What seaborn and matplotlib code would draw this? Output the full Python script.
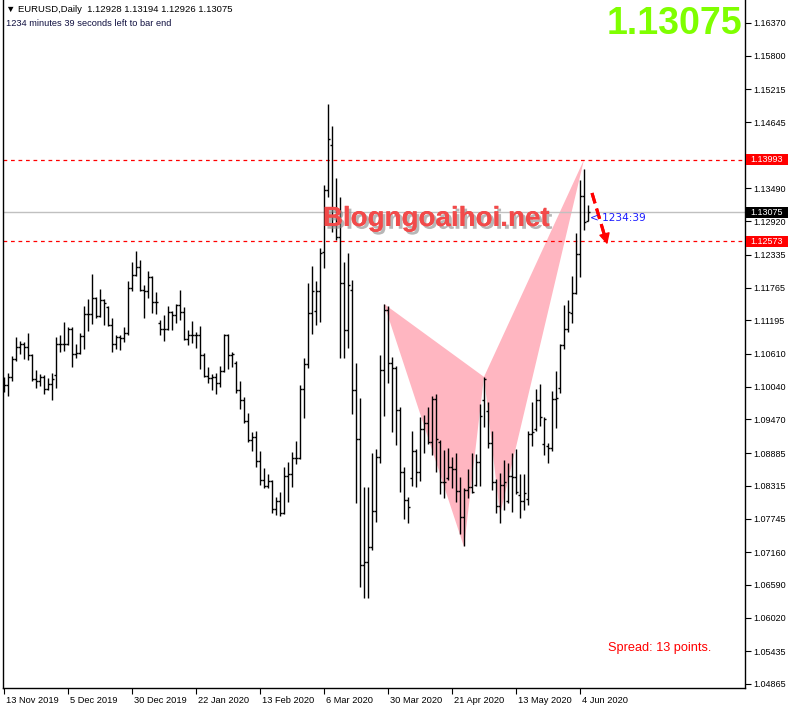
import matplotlib
matplotlib.use("Agg")
import matplotlib.pyplot as plt
import matplotlib.patheffects as pe
import matplotlib.transforms as mtrans
from matplotlib.patches import Rectangle
import numpy as np
import pandas as pd
import seaborn as sns

# daily OHLC bars, 13 Nov 2019 .. 8 Jun 2020
opens = [1.1003, 1.1007, 1.1021, 1.1052, 1.1073, 1.1079, 1.1073, 1.1059, 1.1018, 1.1014,
         1.1021, 1.1000, 1.1009, 1.1024, 1.1079, 1.1079, 1.1079, 1.1105, 1.1061, 1.1063,
         1.1092, 1.1131, 1.1131, 1.1158, 1.1127, 1.1155, 1.1143, 1.1112, 1.1079, 1.1091,
         1.1089, 1.1098, 1.1176, 1.1198, 1.1212, 1.1173, 1.1171, 1.1195, 1.1152, 1.1115,
         1.1105, 1.1105, 1.1134, 1.1129, 1.1146, 1.1134, 1.1087, 1.1094, 1.1094, 1.1094,
         1.1059, 1.1023, 1.1019, 1.1021, 1.1011, 1.1031, 1.1094, 1.1059, 1.1045, 1.0998,
         1.0981, 1.0944, 1.0911, 1.0917, 1.0875, 1.0842, 1.0831, 1.0840, 1.0791, 1.0805,
         1.0784, 1.0849, 1.0852, 1.0880, 1.0880, 1.1000, 1.1044, 1.1132, 1.1136, 1.1171,
         1.1239, 1.1346, 1.1425, 1.1286, 1.1265, 1.1185, 1.1103, 1.1172, 1.0998, 1.0913,
         1.0694, 1.0699, 1.0725, 1.0788, 1.0882, 1.1033, 1.1138, 1.1045, 1.1037, 1.0964,
         1.0856, 1.0806, 1.0845, 1.0892, 1.0856, 1.0931, 1.0941, 1.0908, 1.0983, 1.0908,
         1.0838, 1.0845, 1.0864, 1.0861, 1.0823, 1.0777, 1.0824, 1.0830, 1.0833, 1.0873,
         1.0981, 1.0962, 1.0906, 1.0838, 1.0797, 1.0833, 1.0805, 1.0849, 1.0847, 1.0816,
         1.0805, 1.0809, 1.0922, 1.0930, 1.0981, 1.0904, 1.0900, 1.0897, 1.0983, 1.1002,
         1.1077, 1.1105, 1.1132, 1.1167, 1.1235, 1.1336, 1.12928]
highs = [1.1021, 1.1028, 1.1058, 1.1091, 1.1084, 1.1082, 1.1098, 1.1061, 1.1033, 1.1026,
         1.1024, 1.1019, 1.1028, 1.1091, 1.1094, 1.1117, 1.1108, 1.1108, 1.1079, 1.1098,
         1.1145, 1.1157, 1.1200, 1.1160, 1.1174, 1.1157, 1.1145, 1.1124, 1.1094, 1.1094,
         1.1108, 1.1188, 1.1221, 1.1240, 1.1225, 1.1181, 1.1205, 1.1197, 1.1169, 1.1120,
         1.1129, 1.1145, 1.1136, 1.1148, 1.1172, 1.1143, 1.1103, 1.1119, 1.1100, 1.1110,
         1.1063, 1.1038, 1.1026, 1.1028, 1.1040, 1.1096, 1.1096, 1.1065, 1.1049, 1.1014,
         1.0986, 1.0958, 1.0925, 1.0927, 1.0892, 1.0863, 1.0852, 1.0842, 1.0812, 1.0821,
         1.0864, 1.0873, 1.0890, 1.0910, 1.1007, 1.1054, 1.1185, 1.1214, 1.1188, 1.1245,
         1.1355, 1.1496, 1.1458, 1.1367, 1.1334, 1.1221, 1.1237, 1.1190, 1.1045, 1.0984,
         1.0830, 1.0830, 1.0889, 1.0896, 1.1059, 1.1148, 1.1145, 1.1056, 1.1040, 1.0969,
         1.0864, 1.0812, 1.0927, 1.0895, 1.0951, 1.0955, 1.0969, 1.0988, 1.0991, 1.0911,
         1.0894, 1.0897, 1.0882, 1.0889, 1.0847, 1.0828, 1.0861, 1.0889, 1.0887, 1.0974,
         1.1021, 1.0978, 1.0927, 1.0844, 1.0854, 1.0877, 1.0871, 1.0889, 1.0896, 1.0852,
         1.0852, 1.0927, 1.0978, 1.1000, 1.1009, 1.0951, 1.0906, 1.0997, 1.1032, 1.1078,
         1.1146, 1.1155, 1.1197, 1.1272, 1.1364, 1.1383, 1.13194]
lows = [1.0995, 1.0988, 1.1014, 1.1049, 1.1061, 1.1052, 1.1051, 1.1014, 1.1002, 1.1005,
        1.0991, 1.0998, 1.0981, 1.1002, 1.1065, 1.1066, 1.1077, 1.1038, 1.1054, 1.1060,
        1.1070, 1.1101, 1.1113, 1.1124, 1.1125, 1.1112, 1.1110, 1.1065, 1.1070, 1.1068,
        1.1082, 1.1094, 1.1171, 1.1196, 1.1171, 1.1124, 1.1158, 1.1132, 1.1131, 1.1094,
        1.1084, 1.1103, 1.1103, 1.1115, 1.1120, 1.1085, 1.1077, 1.1080, 1.1072, 1.1035,
        1.1021, 1.1011, 1.0998, 1.0991, 1.1004, 1.1030, 1.1035, 1.1038, 1.0993, 1.0965,
        1.0941, 1.0908, 1.0892, 1.0864, 1.0833, 1.0828, 1.0828, 1.0784, 1.0781, 1.0779,
        1.0782, 1.0804, 1.0830, 1.0870, 1.0878, 1.0950, 1.1037, 1.1096, 1.1112, 1.1117,
        1.1211, 1.1334, 1.1273, 1.1259, 1.1054, 1.1054, 1.1072, 1.0957, 1.0802, 1.0656,
        1.0637, 1.0637, 1.0720, 1.0769, 1.0871, 1.0953, 1.1011, 1.0925, 1.0903, 1.0821,
        1.0774, 1.0767, 1.0831, 1.0830, 1.0840, 1.0889, 1.0904, 1.0885, 1.0856, 1.0817,
        1.0810, 1.0842, 1.0828, 1.0804, 1.0748, 1.0727, 1.0810, 1.0819, 1.0831, 1.0831,
        1.0934, 1.0898, 1.0824, 1.0784, 1.0767, 1.0790, 1.0802, 1.0786, 1.0817, 1.0776,
        1.0790, 1.0798, 1.0901, 1.0927, 1.0936, 1.0885, 1.0871, 1.0892, 1.0932, 1.0993,
        1.1070, 1.1099, 1.1115, 1.1165, 1.1195, 1.1277, 1.12926]
closes = [1.1007, 1.1021, 1.1052, 1.1073, 1.1079, 1.1073, 1.1059, 1.1018, 1.1014, 1.1021,
          1.1000, 1.1009, 1.1018, 1.1079, 1.1079, 1.1079, 1.1105, 1.1061, 1.1063, 1.1092,
          1.1131, 1.1131, 1.1158, 1.1127, 1.1155, 1.1150, 1.1112, 1.1079, 1.1091, 1.1089,
          1.1098, 1.1176, 1.1198, 1.1212, 1.1173, 1.1171, 1.1195, 1.1152, 1.1152, 1.1105,
          1.1105, 1.1134, 1.1129, 1.1146, 1.1134, 1.1087, 1.1094, 1.1094, 1.1094, 1.1059,
          1.1023, 1.1019, 1.1021, 1.1011, 1.1031, 1.1094, 1.1059, 1.1061, 1.0998, 1.0981,
          1.0944, 1.0911, 1.0917, 1.0875, 1.0842, 1.0831, 1.0840, 1.0791, 1.0805, 1.0784,
          1.0849, 1.0852, 1.0880, 1.0880, 1.1000, 1.1044, 1.1132, 1.1171, 1.1171, 1.1237,
          1.1346, 1.1435, 1.1286, 1.1265, 1.1185, 1.1103, 1.1181, 1.0998, 1.0913, 1.0694,
          1.0699, 1.0725, 1.0788, 1.0882, 1.1033, 1.1138, 1.1045, 1.1037, 1.0964, 1.0856,
          1.0806, 1.0795, 1.0892, 1.0856, 1.0931, 1.0941, 1.0908, 1.0983, 1.0913, 1.0838,
          1.0838, 1.0864, 1.0861, 1.0823, 1.0777, 1.0824, 1.0830, 1.0821, 1.0873, 1.0953,
          1.1017, 1.0906, 1.0838, 1.0797, 1.0833, 1.0838, 1.0849, 1.0847, 1.0821, 1.0805,
          1.0819, 1.0922, 1.0925, 1.0981, 1.0951, 1.0948, 1.0897, 1.0983, 1.0985, 1.1077,
          1.1105, 1.1134, 1.1167, 1.1235, 1.1336, 1.1291, 1.13075]

date_labels = ["13 Nov 2019", "5 Dec 2019", "30 Dec 2019", "22 Jan 2020", "13 Feb 2020",
               "6 Mar 2020", "30 Mar 2020", "21 Apr 2020", "13 May 2020", "4 Jun 2020"]
price_ticks = [1.16370, 1.15800, 1.15215, 1.14645, 1.14065, 1.13490, 1.12920, 1.12335,
               1.11765, 1.11195, 1.10610, 1.10040, 1.09470, 1.08885, 1.08315, 1.07745,
               1.07160, 1.06590, 1.06020, 1.05435, 1.04865]

# harmonic pattern legs (bar index, price)
leg1_x = [95, 120, 115]
leg1_y = [1.1148, 1.1021, 1.0725]
leg2_x = [120, 145, 124]
leg2_y = [1.1021, 1.1399, 1.0781]

bid = 1.13075
level_high = 1.13993
level_low = 1.12573
arrow_x = [147, 151]
arrow_y = [1.1341, 1.1247]

sns.set_theme(style="white")
plt.rcParams['font.family'] = ['Liberation Sans', 'DejaVu Sans']

df = pd.DataFrame({"open": opens, "high": highs, "low": lows, "close": closes})
df["bar"] = np.arange(len(df))

fig = plt.figure(figsize=(7.9, 7.08), dpi=100)
ax = fig.add_axes([3 / 790, 20 / 708, 742 / 790, 688 / 708])
ax.set_facecolor("white")

# pattern shading
ax.fill(leg1_x, leg1_y, color="#ffb6c1", lw=0, zorder=1)
ax.fill(leg2_x, leg2_y, color="#ffb6c1", lw=0, zorder=1)

# levels
ax.axhline(bid, color="#c0c0c0", lw=1, zorder=1.5)
ax.axhline(level_high, color="red", lw=0.9, ls=(0, (3, 3)), zorder=1.5)
ax.axhline(level_low, color="red", lw=0.9, ls=(0, (3, 3)), zorder=1.5)

# OHLC bars
ax.vlines(df["bar"], df["low"], df["high"], color="black", lw=1.0, zorder=3)
ax.hlines(df["open"], df["bar"] - 0.4, df["bar"], color="black", lw=1.0, zorder=3)
ax.hlines(df["close"], df["bar"], df["bar"] + 0.4, color="black", lw=1.0, zorder=3)

ax.set_xlim(-0.25, 185.25)
ax.set_ylim(1.04795, 1.16770)

# axes styling
for side in ["left", "right", "bottom"]:
    ax.spines[side].set_visible(True)
    ax.spines[side].set_color("black")
    ax.spines[side].set_linewidth(1)
ax.spines["top"].set_visible(False)

# the 1.14065 label sits under the red 1.13993 box, so only its tick is kept
ax.yaxis.tick_right()
ax.set_yticks(price_ticks)
ax.set_yticklabels(["" if abs(v - 1.14065) < 1e-6 else f"{v:.5f}" for v in price_ticks])
ax.set_xticks(np.arange(0, len(df), 16))
ax.set_xticklabels(date_labels, ha="left")
ax.tick_params(axis="y", right=True, left=False, direction="out", length=4, width=0.8,
               color="black", labelsize=6.5, pad=2, labelcolor="black")
ax.tick_params(axis="x", bottom=True, direction="out", length=4, width=0.8,
               color="black", labelsize=6.7, pad=2, labelcolor="black")
shift = mtrans.ScaledTranslation(2 / 100, 0, fig.dpi_scale_trans)
for lab in ax.get_xticklabels():
    lab.set_transform(lab.get_transform() + shift)

# price boxes on the right scale
box_tr = mtrans.blended_transform_factory(ax.transAxes, ax.transData)
half = 0.00096
for val, col in [(level_high, "#ff0000"), (bid, "black"), (level_low, "#ff0000")]:
    ax.add_patch(Rectangle((1.0013, val - half), 0.0566, 2 * half, transform=box_tr,
                           facecolor=col, edgecolor="none", clip_on=False, zorder=5))
    ax.text(1.0296, val, f"{val:.5f}", transform=box_tr, color="white", fontsize=6.5,
            ha="center", va="center", clip_on=False, zorder=6)

# forecast arrow
shadow = [pe.withSimplePatchShadow(offset=(1.5, -1.5), shadow_rgbFace="#999999", alpha=0.5), pe.Normal()]
ax.plot([arrow_x[0], arrow_x[1] - 0.6], [arrow_y[0], arrow_y[1] + 0.0014], color="red",
        lw=2.2, dashes=(3.5, 1.8), zorder=4, path_effects=shadow)
ax.annotate("", xy=(arrow_x[1], arrow_y[1]), xytext=(arrow_x[1] - 0.7, arrow_y[1] + 0.0018),
            arrowprops=dict(arrowstyle="-|>,head_length=0.55,head_width=0.28", color="red", lw=1),
            zorder=4)

# texts
fig.text(6 / 790, 1 - 10 / 708, "\u25bc EURUSD,Daily  1.12928 1.13194 1.12926 1.13075",
         fontsize=6.8, color="black", va="center", ha="left")
fig.text(6 / 790, 1 - 23 / 708, "1234 minutes 39 seconds left to bar end",
         fontsize=6.7, color="#101040", va="center", ha="left")
fig.text(742 / 790, 1 - 24 / 708, "1.13075", fontsize=27, weight="bold", color="#7fff00",
         ha="right", va="center")
fig.text(436 / 790, 1 - 219 / 708, "Blogngoaihoi.net", fontsize=20, weight="bold",
         color="#f24a4a", ha="center", va="center",
         path_effects=[pe.withSimplePatchShadow(offset=(2, -2), shadow_rgbFace="#888888", alpha=0.6),
                       pe.Normal()])
fig.text(590 / 790, 1 - 218 / 708, "< 1234:39", fontsize=7.6, color="#1a1aff",
         family="DejaVu Sans", ha="left", va="center")
fig.text(608 / 790, 1 - 648 / 708, "Spread: 13 points.", fontsize=9.2, color="red",
         ha="left", va="center")

fig.savefig("out.png", dpi=100, facecolor="white")
